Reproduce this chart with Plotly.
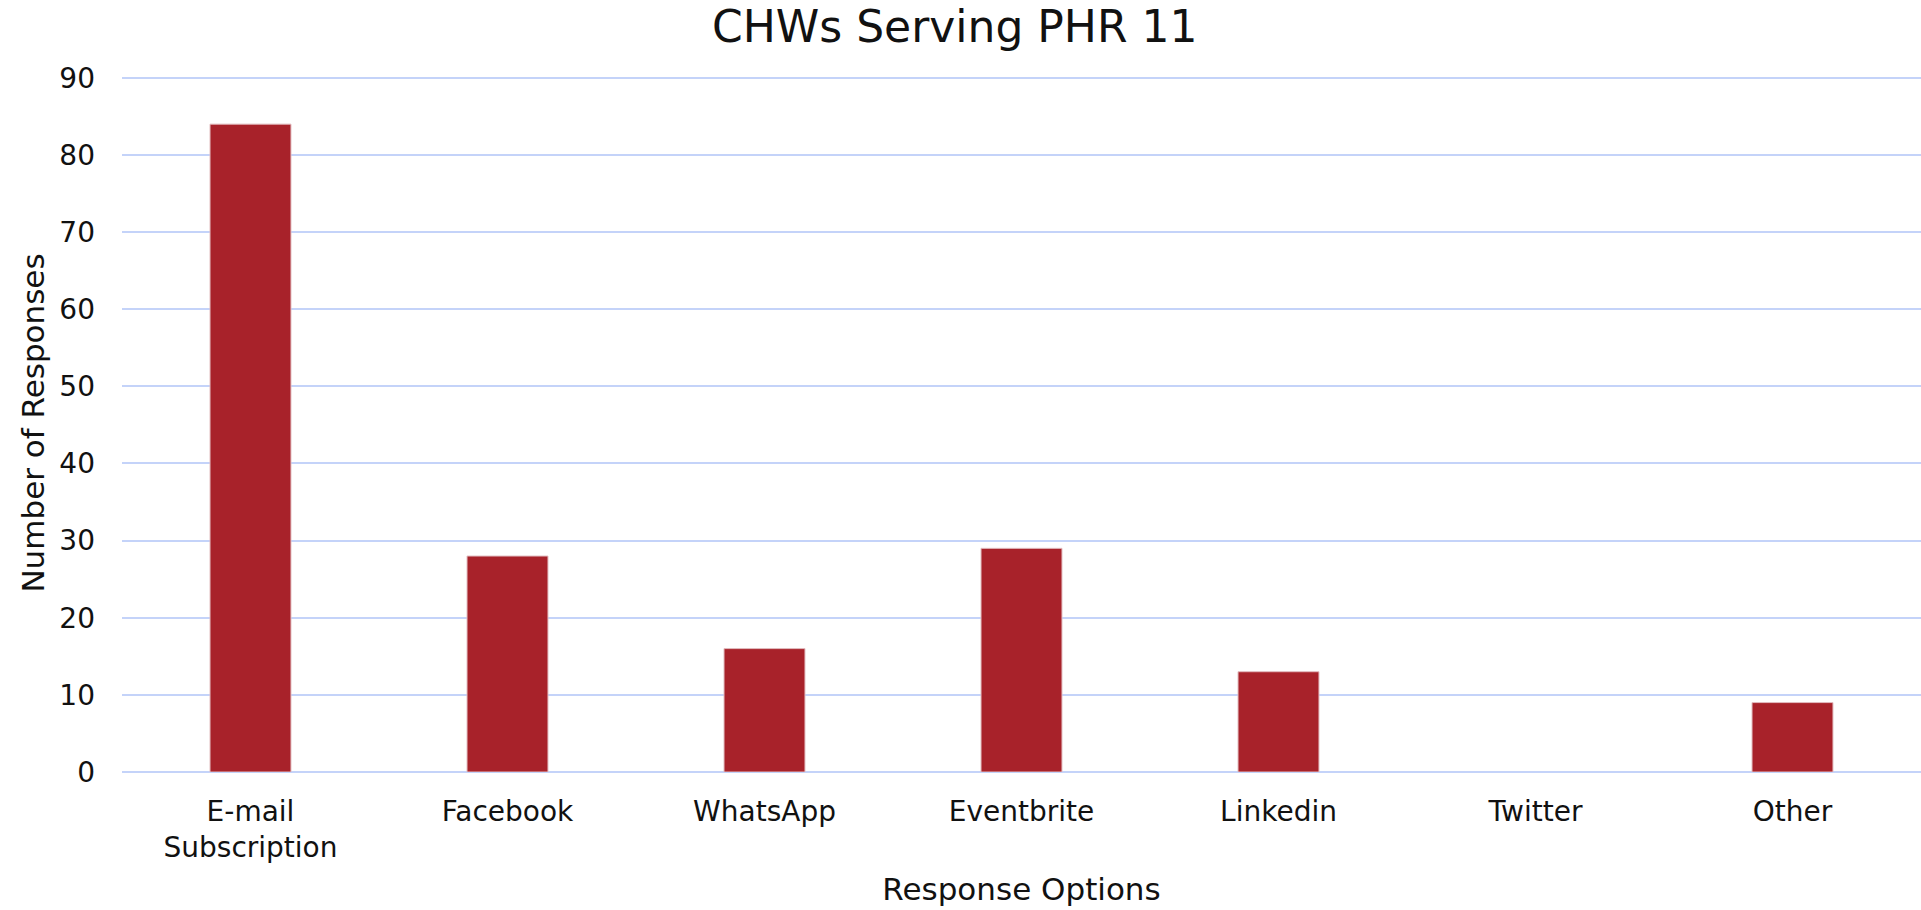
import plotly.graph_objects as go

categories = ["E-mail<br>Subscription", "Facebook", "WhatsApp", "Eventbrite", "Linkedin", "Twitter", "Other"]
responses = [84, 28, 16, 29, 13, 0, 9]
y_ticks = [0, 10, 20, 30, 40, 50, 60, 70, 80, 90]

FONT = "Verdana, DejaVu Sans, sans-serif"

fig = go.Figure(
    go.Bar(
        x=categories,
        y=responses,
        marker=dict(
            color="#a8222a",
            line=dict(color="#e2bcbf", width=[1 if v > 0 else 0 for v in responses]),
        ),
    )
)

fig.update_layout(
    width=1921,
    height=910,
    paper_bgcolor="white",
    plot_bgcolor="white",
    bargap=0.685,
    margin=dict(l=122, r=0, t=74, b=138, autoexpand=False),
    font=dict(family=FONT, size=28, color="#111111"),
    title=dict(
        text="CHWs Serving PHR 11",
        font=dict(family=FONT, size=44, color="#111111"),
        x=0.497,
        xanchor="center",
        xref="container",
        y=1 - 27 / 910,
        yref="container",
        yanchor="middle",
    ),
    showlegend=False,
)

fig.update_xaxes(
    title=dict(text="Response Options", font=dict(family=FONT, size=31), standoff=14),
    automargin=False,
    showgrid=False,
    showline=False,
    ticks="",
    ticklabelstandoff=20,
    tickfont=dict(family=FONT, size=28),
)

fig.update_yaxes(
    title=dict(text="Number of Responses", font=dict(family=FONT, size=31), standoff=5),
    automargin=False,
    range=[0, 90.5],
    tickvals=y_ticks,
    showgrid=True,
    gridcolor="#c4d3f9",
    gridwidth=2,
    zeroline=True,
    zerolinecolor="#c4d3f9",
    zerolinewidth=2,
    showline=False,
    ticks="",
    ticklabelstandoff=26,
    tickfont=dict(family=FONT, size=28),
)

fig.write_html(
    "out.html",
    config={"displayModeBar": False},
    post_script="document.body.style.margin='0';document.body.style.overflow='hidden';",
)
